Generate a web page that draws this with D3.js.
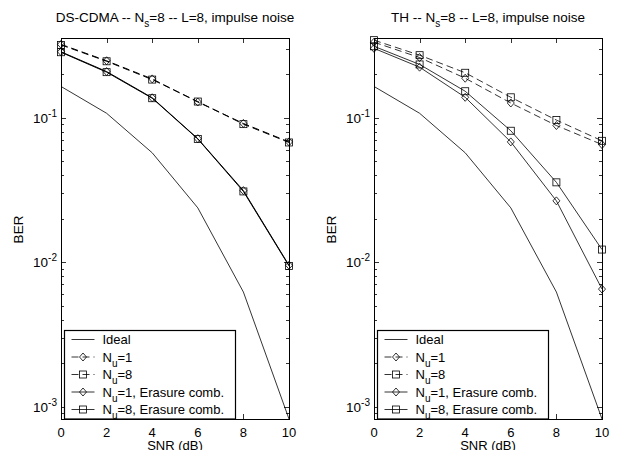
<!DOCTYPE html>
<html>
<head>
<meta charset="utf-8">
<script src="https://cdn.jsdelivr.net/npm/d3@7"></script>
<style>
  body { margin: 0; background: #fff; }
  text { font-family: "Liberation Sans", Arial, sans-serif; fill: #000; }
</style>
</head>
<body>
<div id="chart"></div>
<script>
// data
const snr = [0, 2, 4, 6, 8, 10];
const ideal = [0.164, 0.107, 0.057, 0.0237, 0.0062, 0.00082];

const dsNu1 = [0.321, 0.247, 0.185, 0.128, 0.091, 0.0678];
const dsNu8 = [0.318, 0.245, 0.183, 0.129, 0.090, 0.0672];
const dsNu1Er = [0.285, 0.208, 0.137, 0.0714, 0.0312, 0.0095];
const dsNu8Er = [0.283, 0.206, 0.136, 0.0710, 0.0308, 0.0094];

const thNu1 = [0.332, 0.260, 0.187, 0.126, 0.088, 0.065];
const thNu8 = [0.343, 0.270, 0.204, 0.138, 0.096, 0.069];
const thNu1Er = [0.301, 0.223, 0.138, 0.0678, 0.0265, 0.0065];
const thNu8Er = [0.311, 0.233, 0.152, 0.081, 0.0356, 0.0122];

const titles = [
  ["DS-CDMA -- N", "s", "=8 -- L=8, impulse noise"],
  ["TH -- N", "s", "=8 -- L=8, impulse noise"]
];
const legendLabels = [
  ["Ideal"],
  ["N", "u", "=1"],
  ["N", "u", "=8"],
  ["N", "u", "=1, Erasure comb."],
  ["N", "u", "=8, Erasure comb."]
];
const xTicks = [0, 2, 4, 6, 8, 10];
const yTicks = [1e-3, 1e-2, 1e-1];
const yTickExp = ["-3", "-2", "-1"];
const yDomain = [8.2e-4, 0.355];

const w = 621, h = 450;
const plotTop = 38, plotBottom = 419;

const svg = d3.select("#chart").append("svg")
    .attr("width", w)
    .attr("height", h);

function drawPanel(left, right, title, series) {
    const x = d3.scaleLinear().domain([0, 10]).range([left, right]);
    const y = d3.scaleLog().domain(yDomain).range([plotBottom, plotTop]);
    const g = svg.append("g");

    // minor + major ticks on y (inside, both sides)
    const minor = [];
    for (let e = -4; e <= 0; e++) {
        for (let m = 1; m <= 9; m++) {
            const v = m * Math.pow(10, e);
            if (v >= yDomain[0] && v <= yDomain[1]) minor.push({ v: v, major: m == 1 });
        }
    }
    minor.forEach(d => {
        const yy = Math.round(y(d.v)) + 0.5;
        const len = d.major ? 5 : 3;
        g.append("line").attr("x1", left).attr("x2", left + len).attr("y1", yy).attr("y2", yy)
            .attr("stroke", "#000").attr("stroke-width", 0.8);
        g.append("line").attr("x1", right).attr("x2", right - len).attr("y1", yy).attr("y2", yy)
            .attr("stroke", "#000").attr("stroke-width", 0.8);
    });
    xTicks.forEach(t => {
        const xx = Math.round(x(t)) + 0.5;
        g.append("line").attr("x1", xx).attr("x2", xx).attr("y1", plotBottom).attr("y2", plotBottom - 5)
            .attr("stroke", "#000").attr("stroke-width", 0.8);
        g.append("line").attr("x1", xx).attr("x2", xx).attr("y1", plotTop).attr("y2", plotTop + 5)
            .attr("stroke", "#000").attr("stroke-width", 0.8);
        g.append("text").attr("x", x(t)).attr("y", 436.5)
            .attr("text-anchor", "middle").style("font-size", "13px").text(t);
    });

    // y tick labels 10^n
    yTicks.forEach((t, i) => {
        const lab = g.append("text").attr("x", left - 4).attr("y", y(t) + 5)
            .attr("text-anchor", "end").style("font-size", "13.5px");
        lab.append("tspan").text("10");
        lab.append("tspan").attr("dy", -6).style("font-size", "10px").text(yTickExp[i]);
    });

    // curves
    const line = d3.line().x((d, i) => x(snr[i])).y(d => y(d));
    series.forEach(s => {
        g.append("path").datum(s.values)
            .attr("d", line)
            .attr("fill", "none")
            .attr("stroke", "#000")
            .attr("stroke-width", s.width)
            .attr("stroke-dasharray", s.dash ? "7,4" : null);
        if (s.marker) {
            s.values.forEach((v, i) => drawMarker(g, s.marker, x(snr[i]), y(v)));
        }
    });

    // box
    g.append("rect").attr("x", left + 0.5).attr("y", plotTop + 0.5)
        .attr("width", right - left).attr("height", plotBottom - plotTop)
        .attr("fill", "none").attr("stroke", "#000").attr("stroke-width", 1);

    // title
    const tt = g.append("text").attr("x", (left + right) / 2).attr("y", 21.5)
        .attr("text-anchor", "middle").style("font-size", "13.5px");
    tt.append("tspan").text(title[0]);
    tt.append("tspan").attr("dy", 5).style("font-size", "10px").text(title[1]);
    tt.append("tspan").attr("dy", -5).text(title[2]);

    // axis labels
    g.append("text").attr("x", (left + right) / 2).attr("y", 449.5)
        .attr("text-anchor", "middle").style("font-size", "13px").text("SNR (dB)");
    g.append("text").attr("transform", `translate(${left - 38},${(plotTop + plotBottom) / 2 + 1}) rotate(-90)`)
        .attr("text-anchor", "middle").style("font-size", "13.5px").text("BER");

    // legend
    const lx = left + 3.5, ly = 330.5, lw = 171, lh = 88.5;
    const lg = g.append("g");
    lg.append("rect").attr("x", lx).attr("y", ly).attr("width", lw).attr("height", lh)
        .attr("fill", "#fff").attr("stroke", "#000").attr("stroke-width", 1.2);
    series.forEach((s, i) => {
        const ry = ly + 9 + i * 17.5;
        lg.append("line").attr("x1", lx + 7).attr("x2", lx + 30).attr("y1", ry).attr("y2", ry)
            .attr("stroke", "#000").attr("stroke-width", 0.8)
            .attr("stroke-dasharray", s.dash ? "7,4" : null);
        if (s.marker) drawMarker(lg, s.marker, lx + 18.5, ry);
        const lab = legendLabels[i];
        const t = lg.append("text").attr("x", lx + 38).attr("y", ry + 4.5).style("font-size", "13px");
        t.append("tspan").text(lab[0]);
        if (lab.length > 1) {
            t.append("tspan").attr("dy", 5).style("font-size", "10px").text(lab[1]);
            t.append("tspan").attr("dy", -5).text(lab[2]);
        }
    });
}

function drawMarker(g, type, cx, cy) {
    if (type == "diamond") {
        g.append("path")
            .attr("d", `M${cx},${cy - 4}L${cx + 3.5},${cy}L${cx},${cy + 4}L${cx - 3.5},${cy}Z`)
            .attr("fill", "none").attr("stroke", "#000").attr("stroke-width", 0.8);
    } else {
        g.append("rect").attr("x", cx - 3.5).attr("y", cy - 3.5).attr("width", 7).attr("height", 7)
            .attr("fill", "none").attr("stroke", "#000").attr("stroke-width", 0.8);
    }
}

drawPanel(61, 289, titles[0], [
    { values: ideal, width: 0.8 },
    { values: dsNu1, marker: "diamond", dash: true, width: 1 },
    { values: dsNu8, marker: "square", dash: true, width: 1 },
    { values: dsNu1Er, marker: "diamond", width: 1 },
    { values: dsNu8Er, marker: "square", width: 1 }
]);
drawPanel(374, 602, titles[1], [
    { values: ideal, width: 0.8 },
    { values: thNu1, marker: "diamond", dash: true, width: 0.8 },
    { values: thNu8, marker: "square", dash: true, width: 0.8 },
    { values: thNu1Er, marker: "diamond", width: 0.8 },
    { values: thNu8Er, marker: "square", width: 0.8 }
]);
</script>
</body>
</html>
